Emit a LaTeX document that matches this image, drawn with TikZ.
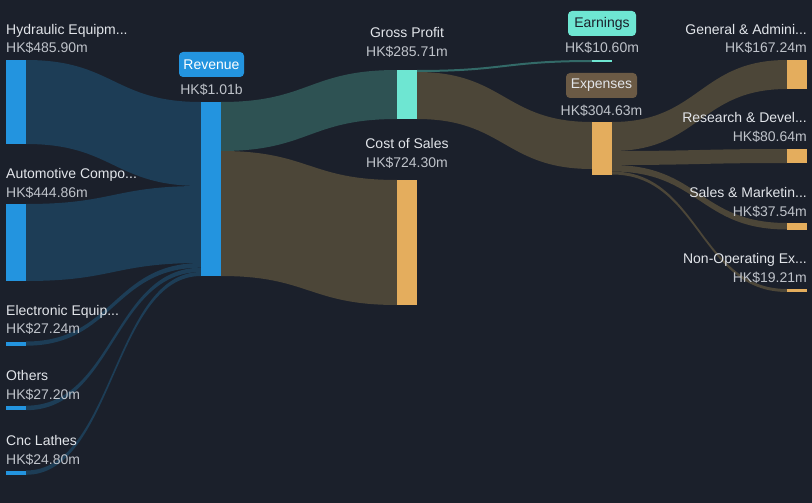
\documentclass[tikz,border=0pt]{standalone}
\usepackage{fontspec}
\setmainfont{Liberation Sans}
\definecolor{bg}{HTML}{1B202B}
\definecolor{barblue}{HTML}{2394DF}
\definecolor{flowblue}{HTML}{1D3D56}
\definecolor{flowteal}{HTML}{2E5253}
\definecolor{flowteallt}{HTML}{336A68}
\definecolor{flowbrown}{HTML}{4C4638}
\definecolor{mint}{HTML}{6EE6D2}
\definecolor{orange}{HTML}{E4AD5D}
\definecolor{expbox}{HTML}{6B5A45}
\definecolor{nametxt}{HTML}{E2E5EA}
\definecolor{valtxt}{HTML}{BFC3CA}
\newcommand{\band}[7]{%
  \pgfmathsetmacro{\xm}{(#1+#4)/2}%
  \fill[#7] (#1,#2) .. controls (\xm,#2) and (\xm,#5) .. (#4,#5) -- (#4,#6) .. controls (\xm,#6) and (\xm,#3) .. (#1,#3) -- cycle;}
\begin{document}
\begin{tikzpicture}[x=1pt,y=-1pt,
  nm/.style={text=nametxt,font=\fontsize{14}{16}\selectfont,inner sep=0pt},
  val/.style={text=valtxt,font=\fontsize{14}{16}\selectfont,inner sep=0pt},
  tag/.style={rounded corners=4pt,minimum height=25pt,inner sep=0pt,font=\fontsize{14}{16}\selectfont},
  bar/.style={inner sep=0pt,outer sep=0pt,minimum width=20pt}]
\fill[bg] (0,0) rectangle (812,503);
\useasboundingbox (0,0) rectangle (812,503);
% bands
\band{26}{60}{144}{201}{102}{186}{flowblue}
\band{26}{204}{281}{201}{186}{263}{flowblue}
\band{26}{341.5}{345.7}{201}{263}{267.7}{flowblue}
\band{26}{405.7}{410.2}{201}{267.7}{272}{flowblue}
\band{26}{470.5}{474.8}{201}{272}{276}{flowblue}
\band{221}{102}{151}{397}{70}{119}{flowteal}
\band{221}{151}{276}{397}{180}{305}{flowbrown}
\band{417}{70}{72}{592}{60}{62}{flowteallt}
\band{417}{72}{119}{592}{122}{169}{flowbrown}
\band{612}{122}{151}{787}{60}{89}{flowbrown}
\band{612}{151}{165}{787}{149}{163}{flowbrown}
\band{612}{165}{171.5}{787}{223}{229.5}{flowbrown}
\band{612}{171.5}{174.5}{787}{289}{292}{flowbrown}
% bars
\fill[barblue] (6,60) rectangle (26,144) coordinate (hyd);
\fill[barblue] (6,204) rectangle (26,281) coordinate (aut);
\fill[barblue] (6,341.5) rectangle (26,345.7) coordinate (ele);
\fill[barblue] (6,405.7) rectangle (26,410.2) coordinate (oth);
\fill[barblue] (6,470.5) rectangle (26,474.8) coordinate (cnc);
\fill[barblue] (201,102) rectangle (221,276) coordinate (rev);
\fill[mint] (397,70) rectangle (417,119) coordinate (gp);
\fill[orange] (397,180) rectangle (417,305) coordinate (cos);
\fill[mint] (592,60) rectangle (612,62) coordinate (earn);
\fill[orange] (592,122) rectangle (612,174.5) coordinate (exp);
\fill[orange] (787,60) rectangle (807,89) coordinate (ga);
\fill[orange] (787,149) rectangle (807,163) coordinate (rd);
\fill[orange] (787,223) rectangle (807,229.5) coordinate (sm);
\fill[orange] (787,289) rectangle (807,292) coordinate (nonop);
% left labels
\node[nm,anchor=base west] (lhyd) at (6,34.5) {Hydraulic Equipm...};
\node[val,anchor=base west] (vhyd) at (6,53) {HK\$485.90m};
\node[nm,anchor=base west] (laut) at (6,178.5) {Automotive Compo...};
\node[val,anchor=base west] (vaut) at (6,197) {HK\$444.86m};
\node[nm,anchor=base west] (lele) at (6,315.5) {Electronic Equip...};
\node[val,anchor=base west] (vele) at (6,333.5) {HK\$27.24m};
\node[nm,anchor=base west] (loth) at (6,380.5) {Others};
\node[val,anchor=base west] (voth) at (6,399) {HK\$27.20m};
\node[nm,anchor=base west] (lcnc) at (6,445.5) {Cnc Lathes};
\node[val,anchor=base west] (vcnc) at (6,464) {HK\$24.80m};
% middle labels
\node[tag,fill=barblue,text=white,minimum width=65pt] (trev) at (211.5,64.5) {Revenue};
\node[val,anchor=base] (vrev) at (211.5,94.5) {HK\$1.01b};
\node[nm,anchor=base] (lgp) at (407,38) {Gross Profit};
\node[val,anchor=base] (vgp) at (407,57) {HK\$285.71m};
\node[nm,anchor=base] (lcos) at (407,148) {Cost of Sales};
\node[val,anchor=base] (vcos) at (407,167) {HK\$724.30m};
\node[tag,fill=mint,text=bg,minimum width=68pt] (tearn) at (602,23.5) {Earnings};
\node[val,anchor=base] (vearn) at (602,53) {HK\$10.60m};
\node[tag,fill=expbox,text=nametxt,minimum width=71pt] (texp) at (601.5,85.5) {Expenses};
\node[val,anchor=base] (vexp) at (601.5,115) {HK\$304.63m};
% right labels
\node[nm,anchor=base east] (lga) at (807,34.5) {General \& Admini...};
\node[val,anchor=base east] (vga) at (807,53) {HK\$167.24m};
\node[nm,anchor=base east] (lrd) at (807,123) {Research \& Devel...};
\node[val,anchor=base east] (vrd) at (807,141.5) {HK\$80.64m};
\node[nm,anchor=base east] (lsm) at (807,197) {Sales \& Marketin...};
\node[val,anchor=base east] (vsm) at (807,216) {HK\$37.54m};
\node[nm,anchor=base east] (lno) at (807,263) {Non-Operating Ex...};
\node[val,anchor=base east] (vno) at (807,282) {HK\$19.21m};
\end{tikzpicture}
\end{document}
